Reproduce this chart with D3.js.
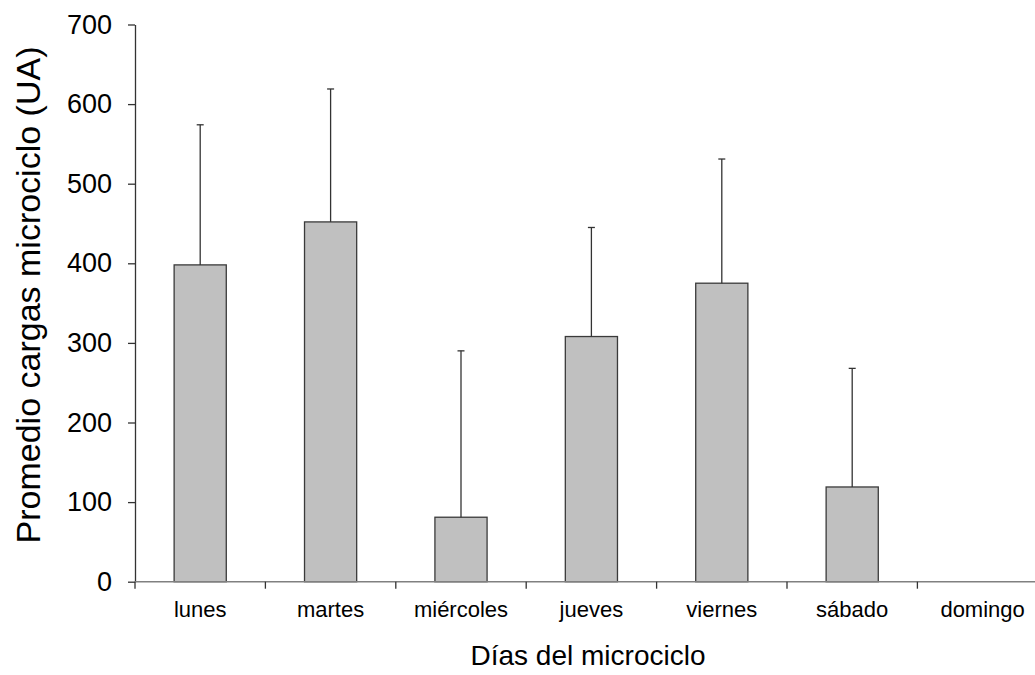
<!DOCTYPE html>
<html>
<head>
<meta charset="utf-8">
<script src="https://cdn.jsdelivr.net/npm/d3@7"></script>
<style>
  html, body { margin: 0; padding: 0; background: #fff; }
  svg { display: block; font-family: "Liberation Sans", Arial, sans-serif; }
</style>
</head>
<body>
<svg id="chart" width="1035" height="675"></svg>
<script>
// Average microcycle load per day (arbitrary units) with upper SD bars
const days = ["lunes", "martes", "miércoles", "jueves", "viernes", "sábado", "domingo"];
const means = [398, 452, 81, 308, 375, 119, 0];
const upper = [574, 619, 290, 445, 531, 268, 0];
const yTicks = [0, 100, 200, 300, 400, 500, 600, 700];

const svg = d3.select("#chart");
const x0 = 135, yTop = 24.5, yBase = 581.7;
const step = 130.4;

const y = d3.scaleLinear().domain([0, 700]).range([yBase, yTop]);
const x = d3.scaleBand().domain(days)
  .range([x0, x0 + step * days.length])
  .paddingInner(0.6).paddingOuter(0.3);

// bars
svg.append("g").selectAll("rect").data(days).join("rect")
  .filter((d, i) => means[i] > 0)
  .attr("x", d => x(d))
  .attr("y", (d) => y(means[days.indexOf(d)]))
  .attr("width", x.bandwidth())
  .attr("height", d => y(0) - y(means[days.indexOf(d)]))
  .attr("fill", "#c0c0c0")
  .attr("stroke", "#3a3a3a")
  .attr("stroke-width", 1.3);

// error bars (upper only)
const eb = svg.append("g").attr("stroke", "#333").attr("stroke-width", 1.3);
days.forEach((d, i) => {
  if (upper[i] <= means[i]) return;
  const cx = x(d) + x.bandwidth() / 2;
  eb.append("line").attr("x1", cx).attr("x2", cx)
    .attr("y1", y(means[i])).attr("y2", y(upper[i]));
  eb.append("line").attr("x1", cx - 3.5).attr("x2", cx + 3.5)
    .attr("y1", y(upper[i])).attr("y2", y(upper[i]));
});

// y axis
const yAxis = svg.append("g").attr("transform", `translate(${x0},0)`)
  .call(d3.axisLeft(y).tickValues(yTicks).tickSize(7).tickSizeOuter(0).tickPadding(16));
yAxis.select(".domain").attr("stroke", "#333").attr("stroke-width", 1.3);
yAxis.selectAll(".tick line").attr("stroke", "#333").attr("stroke-width", 1.3);
yAxis.selectAll(".tick text").attr("font-size", 27).attr("fill", "#000")
  .attr("font-family", "Liberation Sans, Arial, sans-serif");

// x axis line, boundary ticks and labels
const xg = svg.append("g");
xg.append("line").attr("x1", x0).attr("x2", 1035).attr("y1", yBase).attr("y2", yBase)
  .attr("stroke", "#808080").attr("stroke-width", 1.5);
days.forEach((d, i) => {
  const bx = x(d) - x.step() * x.paddingOuter();
  xg.append("line").attr("x1", bx).attr("x2", bx).attr("y1", yBase).attr("y2", yBase + 7)
    .attr("stroke", "#333").attr("stroke-width", 1.3);
});
xg.selectAll("text").data(days).join("text")
  .attr("x", d => x(d) + x.bandwidth() / 2)
  .attr("y", 617)
  .attr("text-anchor", "middle")
  .attr("font-size", 22)
  .attr("fill", "#000")
  .text(d => d);

// axis titles
svg.append("text").attr("x", 588).attr("y", 665).attr("text-anchor", "middle")
  .attr("font-size", 28).attr("fill", "#000").text("Días del microciclo");
svg.append("text").attr("transform", "translate(40,295) rotate(-90)")
  .attr("text-anchor", "middle").attr("font-size", 34).attr("fill", "#000")
  .text("Promedio cargas microciclo (UA)");
</script>
</body>
</html>
